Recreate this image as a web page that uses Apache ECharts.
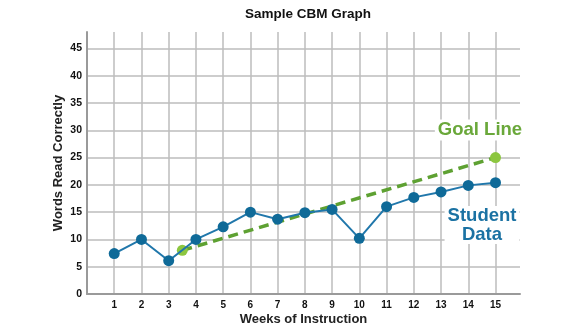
<!DOCTYPE html>
<html>
<head>
<meta charset="utf-8">
<script src="https://cdn.jsdelivr.net/npm/echarts@6/dist/echarts.min.js"></script>
<style>
html,body{margin:0;padding:0;background:#fff;}
#c{width:584px;height:327px;}
</style>
</head>
<body>
<div id="c"></div>
<script>
const weeks = [1,2,3,4,5,6,7,8,9,10,11,12,13,14,15];
const studentData = [7.4,10.0,6.1,10.0,12.3,15.0,13.7,14.9,15.5,10.2,16.0,17.7,18.7,19.9,20.4];
const goalWeeks = [3.5, 15];
const goalValues = [8, 25];
const titleText = 'Sample CBM Graph';
const xName = 'Weeks of Instruction';
const yName = 'Words Read Correctly';

const FONT = '"Liberation Sans", Arial, Helvetica, sans-serif';
const GRIDC = '#bdbdbd';
const xSplitColors = Array.from({length: 16}, () => GRIDC).concat(['rgba(0,0,0,0)']);
const ySplitColors = Array.from({length: 10}, () => GRIDC).concat(['rgba(0,0,0,0)']);
const chart = echarts.init(document.getElementById('c'));
chart.setOption({
  animation: false,
  backgroundColor: '#fff',
  title: {
    text: titleText, left: 303, top: 2, textAlign: 'center',
    textStyle: {fontFamily: FONT, fontWeight: 'bold', fontSize: 13.5, color: '#111'}
  },
  grid: {left: 87, right: 64, top: 32, bottom: 33, outerBoundsMode: 'none', containLabel: false},
  xAxis: {
    type: 'value', min: 0, max: 15.9, interval: 1,
    name: xName, nameLocation: 'middle', nameGap: 19, nameMoveOverlap: false,
    nameTextStyle: {fontFamily: FONT, fontWeight: 'bold', fontSize: 13, color: '#222'},
    axisLine: {lineStyle: {color: '#9a9a9a', width: 2}},
    axisTick: {show: false},
    axisLabel: {fontFamily: FONT, fontWeight: 'bold', fontSize: 10, color: '#111', margin: 6,
      showMaxLabel: false,
      formatter: v => (v === 0 || v > 15 ? '' : String(v))},
    splitLine: {show: true, lineStyle: {color: xSplitColors, width: 1.5}}
  },
  yAxis: {
    type: 'value', min: 0, max: 48, interval: 5,
    name: yName, nameLocation: 'middle', nameGap: 22, nameRotate: 90, nameMoveOverlap: false,
    nameTextStyle: {fontFamily: FONT, fontWeight: 'bold', fontSize: 13, color: '#222'},
    axisLine: {show: true, lineStyle: {color: '#9a9a9a', width: 2}},
    axisTick: {show: false},
    axisLabel: {fontFamily: FONT, fontWeight: 'bold', fontSize: 10.5, color: '#111', margin: 5,
      showMaxLabel: false,
      formatter: v => (v > 45 ? '' : String(v))},
    splitLine: {show: true, lineStyle: {color: ySplitColors, width: 1.5}}
  },
  series: [
    {
      type: 'line', name: 'Goal Line',
      data: goalWeeks.map((w, i) => [w, goalValues[i]]),
      symbol: 'circle', symbolSize: 11,
      itemStyle: {color: '#8cc63f'},
      lineStyle: {color: '#5ea132', width: 3.5, type: [10, 6]},
      z: 3
    },
    {
      type: 'line', name: 'Student Data',
      data: weeks.map((w, i) => [w, studentData[i]]),
      symbol: 'circle', symbolSize: 11,
      itemStyle: {color: '#0f6a98'},
      lineStyle: {color: '#2077ab', width: 2},
      z: 4
    }
  ],
  graphic: [
    {type: 'text', x: 480, y: 130, z: 10,
      style: {text: 'Goal Line', fontFamily: FONT, fontWeight: 'bold', fontSize: 18.5, fill: '#6aa83a',
        align: 'center', verticalAlign: 'middle', backgroundColor: '#fff', padding: [1, 3]}},
    {type: 'text', x: 482, y: 225, z: 10,
      style: {text: 'Student\nData', fontFamily: FONT, fontWeight: 'bold', fontSize: 18.5, lineHeight: 19,
        fill: '#1b72a3', align: 'center', verticalAlign: 'middle', backgroundColor: '#fff', padding: [0, 3]}}
  ]
});
</script>
</body>
</html>
